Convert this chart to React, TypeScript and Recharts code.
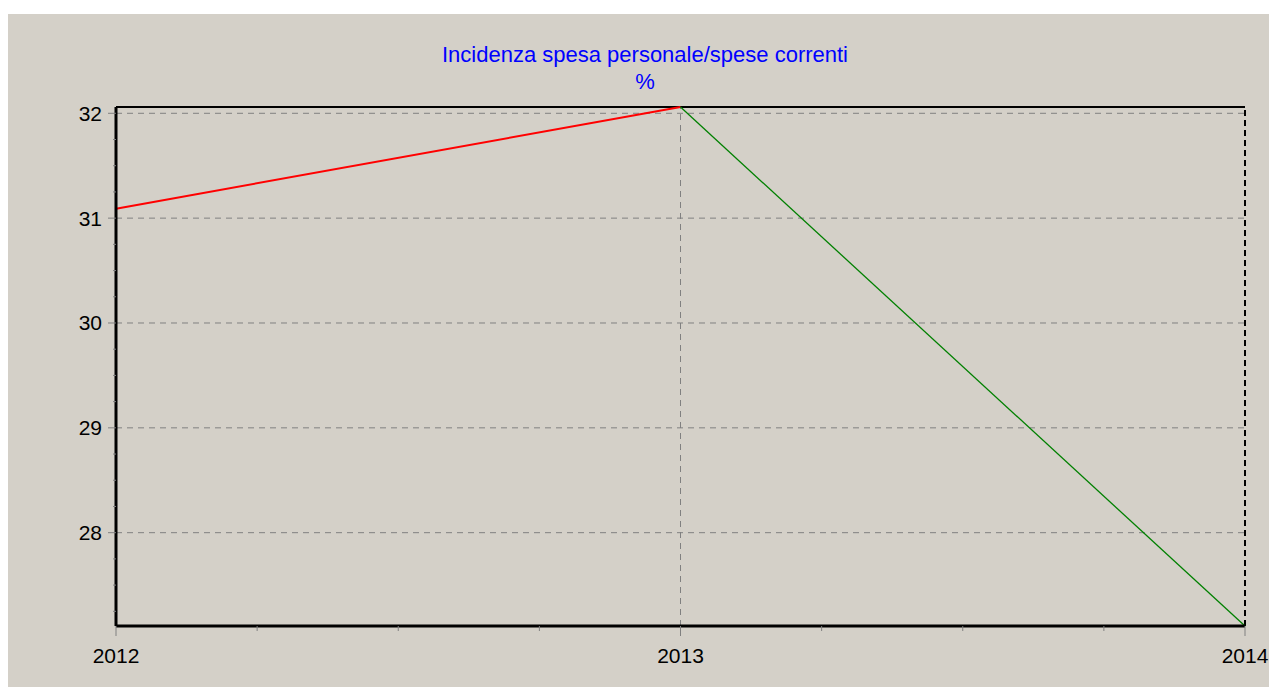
import React from 'react';
import { LineChart, Line, XAxis, YAxis, ReferenceLine } from 'recharts';

const years = [2012, 2013, 2014];
const values = [31.09, 32.06, 27.11];
const xTicks = [2012, 2012.25, 2012.5, 2012.75, 2013, 2013.25, 2013.5, 2013.75, 2014];
const yTicks = [27.25, 27.5, 27.75, 28, 28.25, 28.5, 28.75, 29, 29.25, 29.5, 29.75, 30, 30.25, 30.5, 30.75, 31, 31.25, 31.5, 31.75, 32];
const majorY = [28, 29, 30, 31, 32];
const majorX = [2012, 2013, 2014];
const titleLine1 = 'Incidenza spesa personale/spese correnti';
const titleLine2 = '%';

const data = years.map((year, i) => ({
  year,
  red: i <= 1 ? values[i] : null,
  green: i >= 1 ? values[i] : null,
}));

const yMin = Math.min(...values);
const yMax = Math.max(...values);

const FONT = '"Liberation Sans", Arial, sans-serif';
const TS = 8;
const TM = 6;

const YTick = (props: any) => {
  const { x, y, payload } = props;
  const axisX = x + TS + TM;
  const major = majorY.includes(payload.value);
  return (
    <g>
      <line x1={axisX - (major ? 8 : 3)} x2={axisX} y1={y} y2={y} stroke="#808080" strokeWidth={1} />
      {major && (
        <text x={axisX - 14} y={y} textAnchor="end" dominantBaseline="central" fill="#000" fontSize={21} fontFamily={FONT}>
          {payload.value}
        </text>
      )}
    </g>
  );
};

const XTick = (props: any) => {
  const { x, y, payload } = props;
  const axisY = y - TS - TM;
  const major = majorX.includes(payload.value);
  return (
    <g>
      <line x1={x} x2={x} y1={axisY} y2={axisY + (major ? 10 : 5)} stroke="#808080" strokeWidth={1} />
      {major && (
        <text x={x} y={axisY + 29} textAnchor="middle" dominantBaseline="central" fill="#000" fontSize={21} fontFamily={FONT}>
          {payload.value}
        </text>
      )}
    </g>
  );
};

export default function App() {
  return (
    <div style={{ position: 'absolute', left: 8, top: 14, width: 1261, height: 673, background: '#D4D0C8', overflow: 'hidden' }}>
      <div style={{ position: 'absolute', left: 337, width: 600, top: 27, textAlign: 'center', color: '#0000FF', fontFamily: FONT, fontSize: 22, lineHeight: '27px', whiteSpace: 'nowrap' }}>
        <div>{titleLine1}</div>
        <div>{titleLine2}</div>
      </div>
      <LineChart width={1261} height={673} data={data} margin={{ top: 93, right: 24, bottom: 21, left: 48 }}>
        {majorY.map((v) => (
          <ReferenceLine key={'h' + v} y={v} stroke="#808080" strokeDasharray="6 5" strokeWidth={1} ifOverflow="extendDomain" />
        ))}
        <ReferenceLine x={2013} stroke="#808080" strokeDasharray="6 5" strokeWidth={1} />
        <ReferenceLine x={2014} stroke="#000" strokeDasharray="6 4" strokeWidth={2} />
        <ReferenceLine y={yMax} stroke="#000" strokeWidth={2} />
        <XAxis
          dataKey="year"
          type="number"
          domain={[2012, 2014]}
          ticks={xTicks}
          interval={0}
          axisLine={{ stroke: '#000', strokeWidth: 3 }}
          tickLine={false}
          tickSize={TS}
          tickMargin={TM}
          tick={<XTick />}
          height={40}
        />
        <YAxis
          type="number"
          domain={[yMin, yMax]}
          ticks={yTicks}
          interval={0}
          axisLine={{ stroke: '#000', strokeWidth: 3 }}
          tickLine={false}
          tickSize={TS}
          tickMargin={TM}
          tick={<YTick />}
          width={60}
        />
        <Line dataKey="red" stroke="#FF0000" strokeWidth={2} dot={false} isAnimationActive={false} connectNulls={false} />
        <Line dataKey="green" stroke="#008000" strokeWidth={1.3} dot={false} isAnimationActive={false} connectNulls={false} />
      </LineChart>
    </div>
  );
}
